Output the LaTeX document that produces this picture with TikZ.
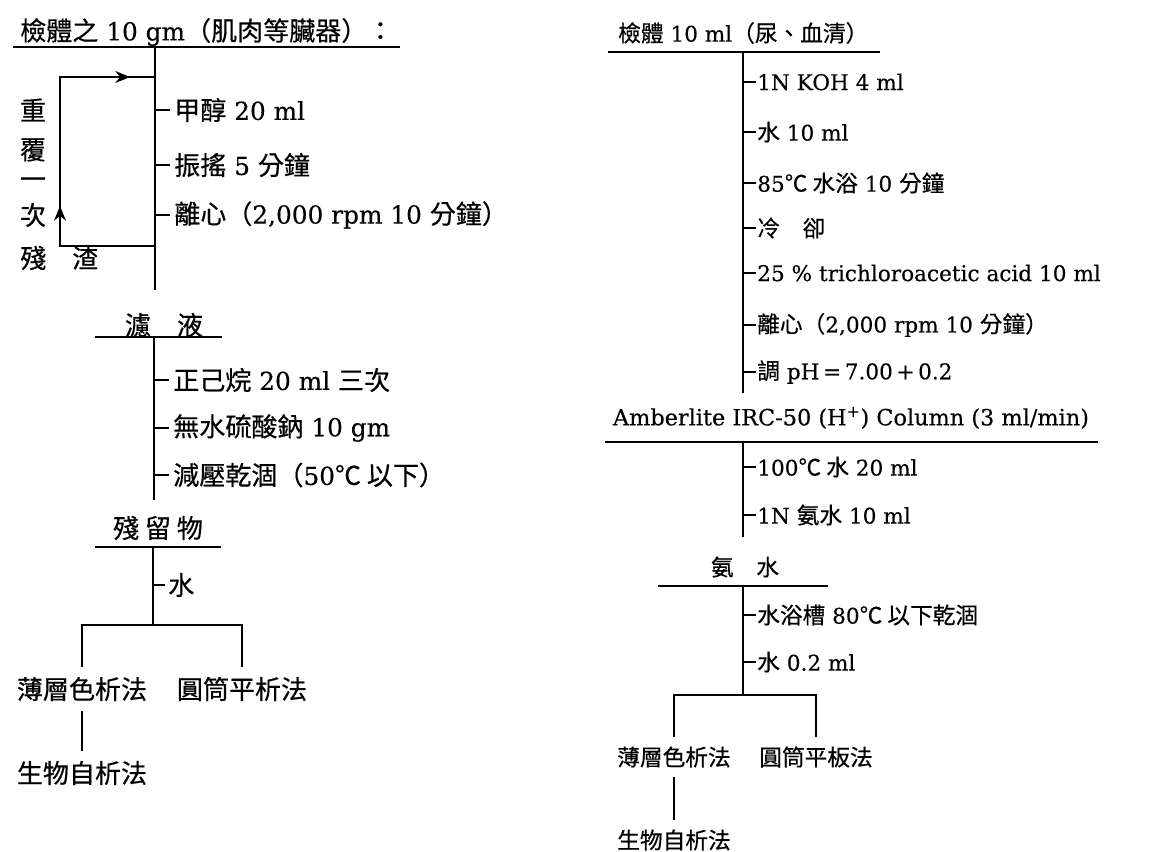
\documentclass[tikz,border=0pt]{standalone}
\usepackage{fontspec}
\setmainfont{DejaVu Serif}[FakeBold=0.3]
\newfontfamily\cjk[Scale=1.05,FakeBold=0.5]{Noto Sans CJK TC}
\newcommand\zh[1]{{\cjk #1}}
\usetikzlibrary{arrows.meta}
\tikzset{
  ln/.style={line width=1.4pt},
  ltxt/.style={anchor=west,inner sep=0pt,font=\fontsize{18.6}{22}\selectfont},
  rtxt/.style={anchor=west,inner sep=0pt,font=\fontsize{16.2}{20}\selectfont},
  lc/.style={inner xsep=0pt,inner ysep=7pt,font=\fontsize{18.6}{22}\selectfont},
  rc/.style={inner xsep=0pt,inner ysep=7pt,font=\fontsize{16.2}{20}\selectfont},
  arr/.style={ln,-{Stealth[length=11pt,width=9pt]}}
}
\begin{document}
\begin{tikzpicture}[x=0.75pt,y=-0.75pt]
\useasboundingbox (0,0) rectangle (1165,851);
% ================= LEFT =================
\node[ltxt] (lt) at (20,32) {\zh{檢體之} 10 gm\zh{（肌肉等臟器）：}};
\coordinate (lu1a) at (13,47); \coordinate (lu1b) at (400,47);
\draw[ln] (lu1a) -- (lu1b);
\coordinate (lk1t) at (155,47); \coordinate (lk1b) at (155,290);
\draw[ln] (lk1t) -- (lk1b);
\node[ltxt] (l1) at (174,110) {\zh{甲醇} 20 ml};
\node[ltxt] (l2) at (174,165) {\zh{振搖} 5 \zh{分鐘}};
\node[ltxt] (l3) at (174,215) {\zh{離心（}2,000 rpm 10 \zh{分鐘）}};
\foreach \n in {l1,l2,l3} \draw[ln] (\n.west -| lk1t) -- ([xshift=-3pt]\n.west);
% loop
\coordinate (lpa) at (155,77); \coordinate (lpb) at (60,77);
\coordinate (lpc) at (60,246); \coordinate (lpd) at (155,246);
\draw[ln] (lpa) -- (lpb) -- (lpc) -- (lpd);
\draw[arr] (lpb) -- (130,77);
\draw[arr] (lpc) -- (60,206);
\node[lc,inner ysep=0pt] (lr1) at (33,110) {\zh{重}};
\node[lc,inner ysep=0pt] (lr2) at (33,150) {\zh{覆}};
\node[lc,inner ysep=0pt] (lr3) at (33,183) {\zh{一}};
\node[lc,inner ysep=0pt] (lr4) at (33,215) {\zh{次}};
\node[ltxt] (lres) at (20,258) {\zh{殘　渣}};
% filtrate
\node[lc,inner ysep=0pt] (lf) at (164,325) {\zh{濾　液}};
\coordinate (lu2a) at (95,337); \coordinate (lu2b) at (222,337);
\draw[ln] (lu2a) -- (lu2b);
\coordinate (lk2t) at (154,337); \coordinate (lk2b) at (154,500);
\draw[ln] (lk2t) -- (lk2b);
\node[ltxt] (lf1) at (173,380) {\zh{正己烷} 20 ml \zh{三次}};
\node[ltxt] (lf2) at (173,428) {\zh{無水硫酸鈉} 10 gm};
\node[ltxt] (lf3) at (173,475) {\zh{減壓乾涸（}50\zh{℃ 以下）}};
\foreach \n in {lf1,lf2,lf3} \draw[ln] (\n.west -| lk2t) -- ([xshift=-3pt]\n.west);
% residue
\node[lc,inner ysep=0pt] (lz) at (158,528) {\zh{殘 留 物}};
\coordinate (lu3a) at (95,547); \coordinate (lu3b) at (221,547);
\draw[ln] (lu3a) -- (lu3b);
\coordinate (lk3t) at (153,547); \coordinate (lk3b) at (153,625);
\draw[ln] (lk3t) -- (lk3b);
\node[ltxt] (lz1) at (168,585) {\zh{水}};
\draw[ln] (lz1.west -| lk3t) -- ([xshift=-2pt]lz1.west);
\node[lc] (lb1) at (82,689) {\zh{薄層色析法}};
\node[lc] (lb2) at (242,689) {\zh{圓筒平析法}};
\node[lc] (lb3) at (82,773) {\zh{生物自析法}};
\draw[ln] (lb1.north) |- (lk3b) -| (lb2.north);
\draw[ln] (lb1.south) -- (lb3.north);
% ================= RIGHT =================
\node[rtxt] (rt) at (618,33) {\zh{檢體} 10 ml\zh{（尿、血清）}};
\coordinate (ru1a) at (608,52); \coordinate (ru1b) at (880,52);
\draw[ln] (ru1a) -- (ru1b);
\coordinate (rk1t) at (743,52); \coordinate (rk1b) at (743,393);
\draw[ln] (rk1t) -- (rk1b);
\node[rtxt] (r1) at (757,82) {1N KOH 4 ml};
\node[rtxt] (r2) at (757,132) {\zh{水} 10 ml};
\node[rtxt] (r3) at (757,183) {85\zh{℃ 水浴} 10 \zh{分鐘}};
\node[rtxt] (r4) at (757,228) {\zh{冷　卻}};
\node[rtxt] (r5) at (757,273) {25 \% trichloroacetic acid 10 ml};
\node[rtxt] (r6) at (757,325) {\zh{離心（}2,000 rpm 10 \zh{分鐘）}};
\node[rtxt] (r7) at (757,372) {\zh{調} pH\,=\,7.00\,+\,0.2};
\foreach \n in {r1,r2,r3,r4,r5,r6,r7} \draw[ln] (\n.west -| rk1t) -- ([xshift=-1pt]\n.west);
% column
\node[rc,inner ysep=0pt,font=\fontsize{16.8}{20}\selectfont] (ra) at (851,418) {Amberlite IRC-50 (H\textsuperscript{+}) Column (3 ml/min)};
\coordinate (ru2a) at (605,442); \coordinate (ru2b) at (1098,442);
\draw[ln] (ru2a) -- (ru2b);
\coordinate (rk2t) at (743,442); \coordinate (rk2b) at (743,537);
\draw[ln] (rk2t) -- (rk2b);
\node[rtxt] (ra1) at (757,467) {100\zh{℃ 水} 20 ml};
\node[rtxt] (ra2) at (757,515) {1N \zh{氨水} 10 ml};
\foreach \n in {ra1,ra2} \draw[ln] (\n.west -| rk2t) -- ([xshift=-1pt]\n.west);
% ammonia
\node[rc,inner ysep=0pt] (rn) at (745,567) {\zh{氨　水}};
\coordinate (ru3a) at (658,586); \coordinate (ru3b) at (828,586);
\draw[ln] (ru3a) -- (ru3b);
\coordinate (rk3t) at (743,586); \coordinate (rk3b) at (743,695);
\draw[ln] (rk3t) -- (rk3b);
\node[rtxt] (rn1) at (757,615) {\zh{水浴槽} 80\zh{℃ 以下乾涸}};
\node[rtxt] (rn2) at (757,662) {\zh{水} 0.2 ml};
\foreach \n in {rn1,rn2} \draw[ln] (\n.west -| rk3t) -- ([xshift=-1pt]\n.west);
\node[rc] (rb1) at (674,757) {\zh{薄層色析法}};
\node[rc] (rb2) at (816,757) {\zh{圓筒平板法}};
\node[rc] (rb3) at (674,840) {\zh{生物自析法}};
\draw[ln] (rb1.north) |- (rk3b) -| (rb2.north);
\draw[ln] (rb1.south) -- (rb3.north);
\end{tikzpicture}
\end{document}
